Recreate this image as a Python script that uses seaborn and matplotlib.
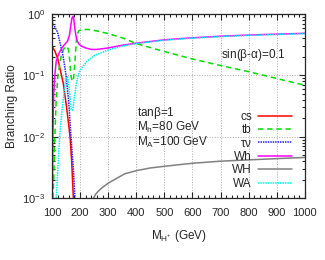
import numpy as np
import pandas as pd
import matplotlib
matplotlib.use("Agg")
import matplotlib.pyplot as plt
import seaborn as sns
from matplotlib.ticker import MultipleLocator, LogLocator, NullFormatter

# Branching ratios
cs_m = [100, 110, 120, 130, 140, 150, 160, 165, 170, 176]
cs_br = [0.30, 0.25, 0.19, 0.12, 0.075, 0.035, 0.015, 0.009, 0.004, 0.001]

tb_m = [103, 106, 110, 115, 121, 132, 142, 152, 158, 163, 167, 172, 177, 182, 188,
        195, 205, 230, 260, 300, 350, 400, 500, 600, 700, 800, 900, 1000]
tb_br = [0.001, 0.002, 0.01, 0.04, 0.1, 0.2, 0.27, 0.3, 0.27, 0.18, 0.1, 0.08, 0.09,
         0.18, 0.45, 0.53, 0.56, 0.56, 0.53, 0.48, 0.41, 0.33, 0.245, 0.185, 0.145,
         0.115, 0.089, 0.069]

tn_m = [100, 110, 120, 130, 140, 150, 160, 165, 170, 176, 182]
tn_br = [0.75, 0.62, 0.5, 0.32, 0.2, 0.1, 0.035, 0.015, 0.007, 0.003, 0.001]

wh_m = [101, 103, 106, 110, 115, 125, 135, 145, 155, 162, 167, 171, 175, 178, 181,
        185, 190, 197, 205, 220, 240, 260, 300, 350, 400, 500, 600, 700, 800, 900, 1000]
wh_br = [0.001, 0.01, 0.05, 0.1, 0.17, 0.23, 0.28, 0.32, 0.36, 0.45, 0.65, 0.86, 0.92,
         0.8, 0.59, 0.45, 0.36, 0.32, 0.3, 0.28, 0.265, 0.265, 0.28, 0.31, 0.335,
         0.38, 0.41, 0.435, 0.455, 0.47, 0.485]

wbh_m = [248, 255, 265, 280, 300, 330, 360, 400, 450, 500, 600, 700, 800, 900, 1000]
wbh_br = [0.001, 0.00115, 0.0013, 0.0015, 0.00175, 0.0021, 0.0025, 0.0028, 0.0031,
          0.0033, 0.0037, 0.004, 0.0042, 0.0044, 0.0046]

wa_m = [115, 121, 127, 135, 140, 146, 150, 155, 160, 165, 168, 172, 175, 180, 186,
        192, 199, 210, 225, 250, 300, 350, 400, 500, 600, 700, 800, 900, 1000]
wa_br = [0.001, 0.003, 0.01, 0.025, 0.04, 0.07, 0.09, 0.095, 0.07, 0.04, 0.028, 0.027,
         0.029, 0.045, 0.07, 0.094, 0.12, 0.14, 0.17, 0.21, 0.26, 0.3, 0.33, 0.375,
         0.405, 0.43, 0.45, 0.465, 0.48]


def main():
    sns.set_style("ticks")
    plt.rcParams['font.family'] = ['Liberation Sans', 'DejaVu Sans']
    plt.rcParams['mathtext.fontset'] = 'custom'
    plt.rcParams['mathtext.rm'] = 'Liberation Sans'
    plt.rcParams['mathtext.it'] = 'Liberation Sans'
    plt.rcParams['font.size'] = 8

    fig, ax = plt.subplots(figsize=(3.25, 2.6), dpi=100)
    fig.subplots_adjust(left=0.16, right=0.938, top=0.946, bottom=0.238)

    series = [
        ("cs", cs_m, cs_br, "#ff0000", "-"),
        ("tb", tb_m, tb_br, "#00dd00", (0, (3.5, 2.5))),
        (r"$\tau\nu$", tn_m, tn_br, "#2222ff", (0, (1, 0.6))),
        ("Wh", wh_m, wh_br, "#ff00ff", "-"),
        ("WH", wbh_m, wbh_br, "#808080", "-"),
        ("WA", wa_m, wa_br, "#00eeee", (0, (1, 0.6))),
    ]
    for name, m, br, col, ls in series:
        sns.lineplot(x=m, y=br, ax=ax, color=col, linestyle=ls, lw=1.1, label=name)

    ax.set_yscale("log")
    ax.set_xlim(100, 1000)
    ax.set_ylim(1e-3, 1)
    ax.xaxis.set_major_locator(MultipleLocator(100))
    ax.xaxis.set_minor_locator(MultipleLocator(20))
    ax.yaxis.set_major_locator(LogLocator(base=10, numticks=10))
    ax.yaxis.set_minor_locator(LogLocator(base=10, subs=np.arange(2, 10), numticks=10))
    ax.yaxis.set_minor_formatter(NullFormatter())
    ax.tick_params(which="both", direction="in", top=True, right=True, labelsize=8,
                   width=0.8)
    ax.tick_params(axis="x", which="both", pad=7)
    ax.tick_params(axis="y", which="both", pad=5)
    ax.tick_params(which="major", length=4)
    ax.tick_params(which="minor", length=2.5)
    ax.grid(True, which="major", color="#aaaaaa", ls=":", lw=0.7)
    for s in ax.spines.values():
        s.set_linewidth(0.9)

    ax.set_xlabel(r"M$_{\mathregular{H^{+}}}$ (GeV)", fontsize=8.5, labelpad=7)
    ax.set_ylabel("Branching Ratio", fontsize=8.5, labelpad=3)

    ax.text(0.668, 0.777, r"sin($\beta$-$\alpha$)=0.1", transform=ax.transAxes,
            fontsize=8.5, va="center")
    ax.text(0.336, 0.462, r"tan$\beta$=1", transform=ax.transAxes, fontsize=8.5, va="center")
    ax.text(0.336, 0.386, r"M$_{\mathregular{h}}$=80 GeV", transform=ax.transAxes,
            fontsize=8.5, va="center")
    ax.text(0.336, 0.304, r"M$_{\mathregular{A}}$=100 GeV", transform=ax.transAxes,
            fontsize=8.5, va="center")

    ax.legend(loc="lower right", bbox_to_anchor=(0.95, 0.045), frameon=False,
              markerfirst=False, handlelength=2.9, handletextpad=0.5,
              labelspacing=0.12, borderpad=0, borderaxespad=0, fontsize=8.5)

    fig.savefig("out.png", dpi=100)


if __name__ == "__main__":
    main()
